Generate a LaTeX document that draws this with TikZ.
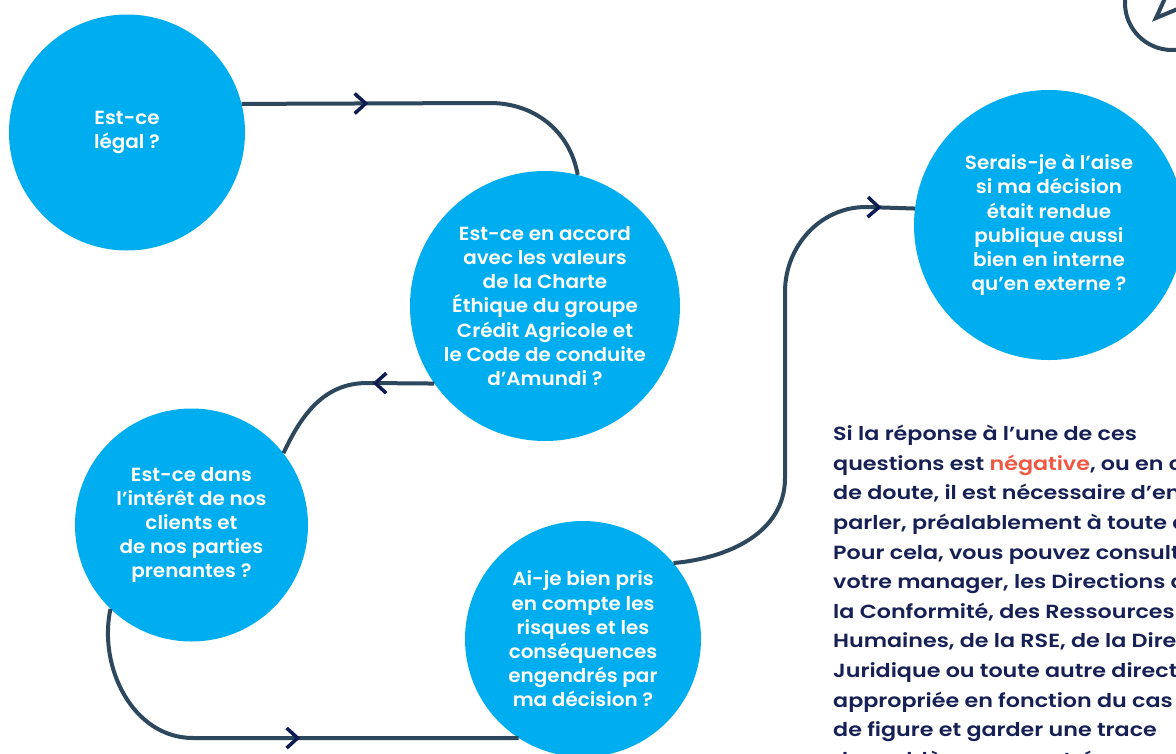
\documentclass[tikz,border=0pt]{standalone}
\usepackage{fontspec}
\setmainfont{Poppins Medium}
\newfontfamily\bubblefont{Poppins SemiBold}[FakeStretch=1.05]
\newfontfamily\notefont{Poppins SemiBold}[FakeStretch=1.17]
\usetikzlibrary{decorations.markings}
\definecolor{bubblecol}{RGB}{0,174,239}
\definecolor{linecol}{RGB}{45,72,92}
\definecolor{chevcol}{RGB}{14,28,82}
\definecolor{notecol}{RGB}{22,32,84}
\definecolor{warncol}{RGB}{240,88,66}

\begin{document}
\begin{tikzpicture}[x=1pt, y=-1pt,
    bubble/.style={circle, fill=bubblecol, text=white, inner sep=0pt, align=center,
      font=\bubblefont\fontsize{19}{24.2}\selectfont},
    flow/.style={linecol, line width=4pt},
    chevron at/.style={postaction={decorate}, decoration={markings,
      mark=at position #1 with {\draw[chevcol, line width=3.5pt, miter limit=10]
        (-11pt,10pt) -- (0pt,0pt) -- (-11pt,-10pt);}}}]
    \useasboundingbox (0,0) rectangle (1176,753);
    \clip (0,0) rectangle (1176,753);
    \fill[white] (0,0) rectangle (1176,753);
    % Questions
    \node[bubble, minimum size=236pt] (legal) at (127,132.5) {Est-ce\\légal ?};
    \node[bubble, minimum size=270pt] (accord) at (545,306) {Est-ce en accord\\avec les valeurs\\de la Charte\\Éthique du groupe\\Crédit Agricole et\\le Code de conduite\\d’Amundi ?};
    \node[bubble, minimum size=233pt] (interet) at (191.5,525) {Est-ce dans\\l’intérêt de nos\\clients et\\de nos parties\\prenantes ?};
    \node[bubble, minimum size=236pt] (risques) at (583,639) {Ai-je bien pris\\en compte les\\risques et les\\conséquences\\engendrés par\\ma décision ?};
    \node[bubble, minimum size=270pt] (aise) at (1049,225) {Serais-je à l’aise\\si ma décision\\était rendue\\publique aussi\\bien en interne\\qu’en externe ?};
    % Path between the questions
    \draw[flow, chevron at=124pt] (legal.14.5) -- (490,103) to[out=0,in=100] (accord.76);
    \draw[flow, chevron at=59pt] (accord.215) -- (367,383) to[out=180,in=65] (interet.38);
    \draw[flow, chevron at=-221pt] (interet.226) to[out=258,in=180] (193,738) -- (risques.237);
    \draw[flow, chevron at=-36pt] (risques.40) to[out=5,in=270] (785,478) -- (785,292)
      to[out=90,in=180] (866,207) -- (aise.173);
    % Corner sign
    \draw[linecol, line width=4pt] (1172,3) circle (47pt);
    \draw[linecol, line width=4pt] (1166,-4) -- (1156,18) -- (1180,8);
    % Note
    \node[notecol, anchor=north west, inner sep=0pt, align=left,
      font=\notefont\fontsize{19}{29.6}\selectfont] (note) at (833,425) {Si la réponse à l’une de ces\\
      questions est \textcolor{warncol}{négative}, ou en cas\\
      de doute, il est nécessaire d’en\\
      parler, préalablement à toute action.\\
      Pour cela, vous pouvez consulter\\
      votre manager, les Directions de\\
      la Conformité, des Ressources\\
      Humaines, de la RSE, de la Direction\\
      Juridique ou toute autre direction\\
      appropriée en fonction du cas\\
      de figure et garder une trace\\
      du problème rencontré.};
\end{tikzpicture}
\end{document}
